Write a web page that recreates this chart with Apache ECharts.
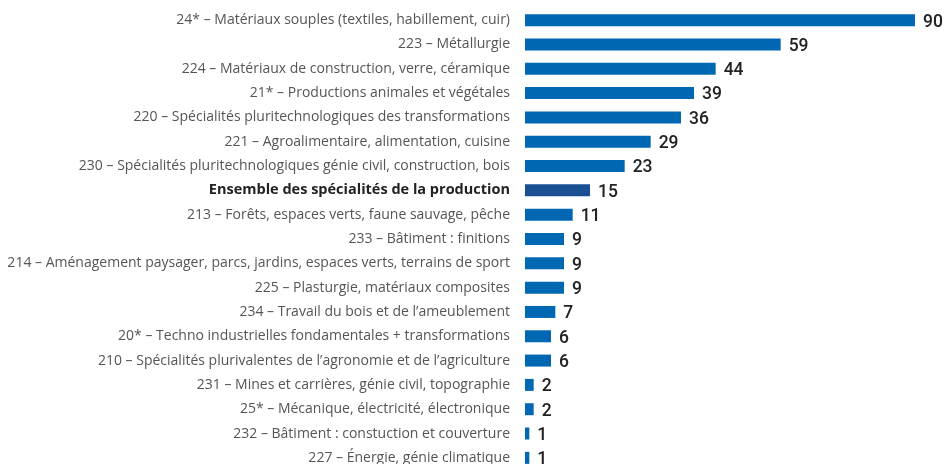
<!DOCTYPE html>
<html>
<head>
<meta charset="utf-8">
<script src="https://cdn.jsdelivr.net/npm/echarts@6/dist/echarts.min.js"></script>
<style>html,body{margin:0;padding:0;background:#fff}#c{width:945px;height:464px}</style>
</head>
<body>
<div id="c"></div>
<script>
const categories = [
  "24* – Matériaux souples (textiles, habillement, cuir)",
  "223 – Métallurgie",
  "224 – Matériaux de construction, verre, céramique",
  "21* – Productions animales et végétales",
  "220 – Spécialités pluritechnologiques des transformations",
  "221 – Agroalimentaire, alimentation, cuisine",
  "230 – Spécialités pluritechnologiques génie civil, construction, bois",
  "Ensemble des spécialités de la production",
  "213 – Forêts, espaces verts, faune sauvage, pêche",
  "233 – Bâtiment : finitions",
  "214 – Aménagement paysager, parcs, jardins, espaces verts, terrains de sport",
  "225 – Plasturgie, matériaux composites",
  "234 – Travail du bois et de l’ameublement",
  "20* – Techno industrielles fondamentales + transformations",
  "210 – Spécialités plurivalentes de l’agronomie et de l’agriculture",
  "231 – Mines et carrières, génie civil, topographie",
  "25* – Mécanique, électricité, électronique",
  "232 – Bâtiment : constuction et couverture",
  "227 – Énergie, génie climatique"
];
const values = [90, 59, 44, 39, 36, 29, 23, 15, 11, 9, 9, 9, 7, 6, 6, 2, 2, 1, 1];
const highlightCategory = "Ensemble des spécialités de la production";

const chart = echarts.init(document.getElementById('c'), null, {renderer: 'canvas'});
const FONT = 'Open Sans';
chart.setOption({
  animation: false,
  grid: {left: 525, top: 8, width: 390, height: 462, containLabel: false, outerBoundsMode: 'none'},
  xAxis: {type: 'value', min: 0, max: 90, show: false},
  yAxis: {
    type: 'category', data: categories, inverse: true,
    axisLine: {show: false}, axisTick: {show: false}, splitLine: {show: false},
    axisLabel: {
      margin: 15, fontFamily: FONT, fontSize: 14, color: '#555555',
      formatter: v => v === highlightCategory ? '{b|' + v + '}' : v,
      rich: {b: {fontFamily: FONT, fontSize: 14.5, fontWeight: 'bold', color: '#222222'}}
    }
  },
  series: [{
    type: 'bar', barWidth: 12,
    data: values.map((v, i) => ({
      value: v,
      itemStyle: {color: categories[i] === highlightCategory ? '#1b4f93' : '#0067b3'}
    })),
    label: {show: true, position: 'right', distance: 8, offset: [0, 2], fontFamily: 'Roboto', fontSize: 17.5,
      fontWeight: 500, color: '#222222'}
  }]
});
</script>
</body>
</html>
